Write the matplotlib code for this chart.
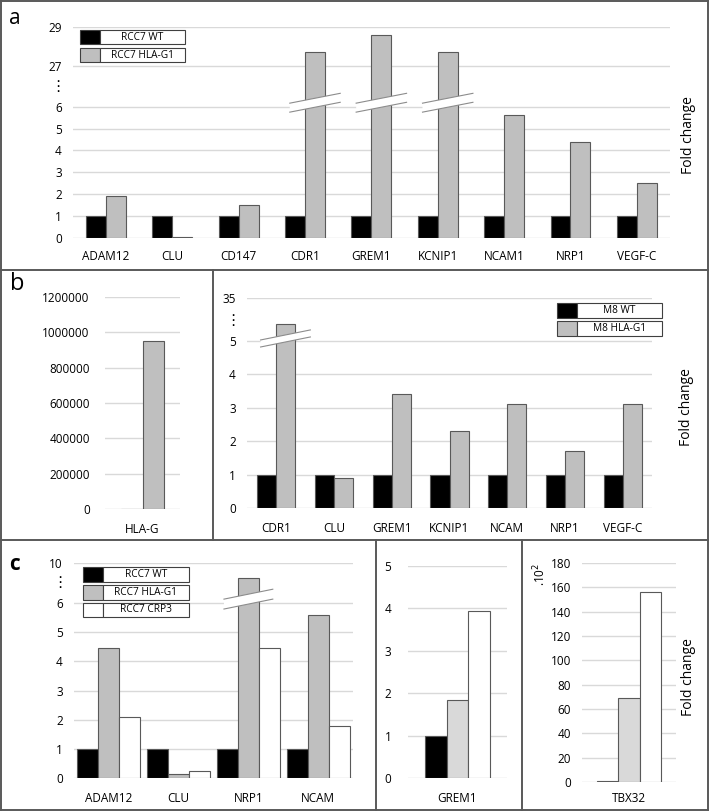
import matplotlib
matplotlib.use('Agg')
import matplotlib.pyplot as plt
import numpy as np
from matplotlib.patches import Rectangle, Polygon
from matplotlib.lines import Line2D

plt.rcParams['font.family'] = ['Open Sans', 'DejaVu Sans']

# ---- data ----
genes_a = ['ADAM12', 'CLU', 'CD147', 'CDR1', 'GREM1', 'KCNIP1', 'NCAM1', 'NRP1', 'VEGF-C']
wt_a = [1, 1, 1, 1, 1, 1, 1, 1, 1]
hla_a = [1.9, 0.05, 1.5, 27.7, 28.6, 27.7, 5.6, 4.4, 2.5]

genes_b0 = ['HLA-G']
wt_b0 = [1]
hla_b0 = [950000]

genes_b = ['CDR1', 'CLU', 'GREM1', 'KCNIP1', 'NCAM', 'NRP1', 'VEGF-C']
wt_b = [1, 1, 1, 1, 1, 1, 1]
hla_b = [17, 0.9, 3.4, 2.3, 3.1, 1.7, 3.1]

genes_c = ['ADAM12', 'CLU', 'NRP1', 'NCAM']
wt_c = [1, 1, 1, 1]
hla_c = [4.45, 0.13, 8.5, 5.6]
crp_c = [2.1, 0.25, 4.45, 1.8]

grem_c = [1, 1.83, 3.95]
tbx_c = [0.6, 69, 156]

BLACK = '#000000'
GREY = '#bfbfbf'
LGREY = '#d9d9d9'
WHITE = '#ffffff'
EDGE = '#595959'
GRID = '#d9d9d9'
FRAME = '#595959'

W, H = 709, 811
fig = plt.figure(figsize=(W / 100, H / 100), dpi=100)


def px_axes(x0, y0, x1, y1):
    return fig.add_axes([x0 / W, 1 - y1 / H, (x1 - x0) / W, (y1 - y0) / H])


def style(ax, ticks, labels=None, fs=8.5):
    for s in ax.spines.values():
        s.set_visible(False)
    ax.set_yticks(ticks)
    if labels is not None:
        ax.set_yticklabels(labels)
    ax.tick_params(length=0, labelsize=fs, pad=8)
    ax.tick_params(axis='x', pad=9)
    ax.yaxis.grid(True, color=GRID, lw=1)
    ax.set_axisbelow(True)


def broken(data_pts, disp_pts):
    def fwd(v):
        return np.interp(v, data_pts, disp_pts)

    def inv(v):
        return np.interp(v, disp_pts, data_pts)
    return fwd, inv


def break_band(ax, xc, half_w, y_mid, rise, thick, inv):
    xs = [xc - half_w, xc + half_w, xc + half_w, xc - half_w]
    ys = [y_mid - rise / 2 - thick / 2, y_mid + rise / 2 - thick / 2,
          y_mid + rise / 2 + thick / 2, y_mid - rise / 2 + thick / 2]
    yd = inv(np.array(ys))
    ax.add_patch(Polygon(list(zip(xs, yd)), closed=True, facecolor='white',
                         edgecolor='none', zorder=5))
    ax.plot(xs[:2], yd[:2], color='#8c8c8c', lw=0.8, zorder=6)
    ax.plot(xs[2:][::-1], yd[2:][::-1], color='#8c8c8c', lw=0.8, zorder=6)


def fig_line(x0, y0, x1, y1):
    fig.add_artist(Line2D([x0 / W, x1 / W], [1 - y0 / H, 1 - y1 / H],
                          transform=fig.transFigure, color=FRAME, lw=1.4))


def legend(x0, x1, y_rows, entries, fs=7.3):
    for (ya, yb), (lab, col) in zip(y_rows, entries):
        fig.add_artist(Rectangle((x0 / W, 1 - yb / H), 20 / W, (yb - ya) / H,
                                 transform=fig.transFigure, facecolor=col,
                                 edgecolor='#404040', lw=0.8))
        fig.add_artist(Rectangle(((x0 + 20) / W, 1 - yb / H), (x1 - x0 - 20) / W,
                                 (yb - ya) / H, transform=fig.transFigure,
                                 facecolor='white', edgecolor='#404040', lw=0.8))
        fig.text((x0 + 20 + x1) / 2 / W, 1 - (ya + yb) / 2 / H, lab,
                 ha='center', va='center', fontsize=fs)


def dots(x, y):
    fig.text(x / W, 1 - y / H, '⋮', ha='center', va='center', fontsize=11,
             family=['DejaVu Sans'])


# ---- panel a ----
ax = px_axes(72.8, 27, 670, 238)
fwd, inv = broken([0, 6, 27, 29], [0, 6, 7.86, 9.64])
ax.set_yscale('function', functions=(fwd, inv))
x = np.arange(len(genes_a))
w = 0.3
ax.bar(x - w / 2, wt_a, w, color=BLACK, edgecolor=EDGE, lw=0.8)
ax.bar(x + w / 2, hla_a, w, color=GREY, edgecolor=EDGE, lw=0.8)
ax.set_xlim(-0.5, len(genes_a) - 0.5)
ax.set_ylim(0, 29)
ax.set_xticks(x)
ax.set_xticklabels(genes_a)
style(ax, [0, 1, 2, 3, 4, 5, 6, 27, 29])
for i, v in enumerate(hla_a):
    if v > 6:
        break_band(ax, x[i] + w / 2, 0.38, 6.18, 0.45, 0.41, inv)
dots(58, 87)
legend(80, 185, [(30, 44), (48, 62)], [('RCC7 WT', BLACK), ('RCC7 HLA-G1', GREY)])
fig.text(15 / W, 1 - 18 / H, 'a', fontsize=15, ha='center', va='center')
fig.text(688 / W, 1 - 135 / H, 'Fold change', rotation=90, fontsize=10,
         ha='center', va='center')

# ---- panel b (left) ----
ax = px_axes(105, 297, 180, 509)
w = 0.29
ax.bar([-w / 2], wt_b0, w, color=BLACK, edgecolor=EDGE, lw=0.8)
ax.bar([w / 2], hla_b0, w, color=GREY, edgecolor=EDGE, lw=0.8)
ax.set_xlim(-0.5, 0.5)
ax.set_ylim(0, 1200000)
ax.set_xticks([0])
ax.set_xticklabels(genes_b0)
yt = [0, 200000, 400000, 600000, 800000, 1000000, 1200000]
style(ax, yt, [str(t) for t in yt])
ax.tick_params(axis='y', pad=11)
ax.tick_params(axis='x', pad=10)
fig.text(17 / W, 1 - 284 / H, 'b', fontsize=17, ha='center', va='center')

# ---- panel b (right) ----
ax = px_axes(247, 298, 652, 508)
fwd, inv = broken([0, 5, 35], [0, 5, 6.28])
ax.set_yscale('function', functions=(fwd, inv))
x = np.arange(len(genes_b))
w = 0.33
ax.bar(x - w / 2, wt_b, w, color=BLACK, edgecolor=EDGE, lw=0.8)
ax.bar(x + w / 2, hla_b, w, color=GREY, edgecolor=EDGE, lw=0.8)
ax.set_xlim(-0.5, len(genes_b) - 0.5)
ax.set_ylim(0, 35)
ax.set_xticks(x)
ax.set_xticklabels(genes_b)
style(ax, [0, 1, 2, 3, 4, 5, 35])
ax.tick_params(axis='x', pad=10)
for i, v in enumerate(hla_b):
    if v > 5:
        break_band(ax, x[i] + w / 2, 0.43, 5.07, 0.3, 0.21, inv)
dots(233, 321)
legend(557, 662, [(303, 318), (321, 336)], [('M8 WT', BLACK), ('M8 HLA-G1', GREY)])
fig.text(687 / W, 1 - 407 / H, 'Fold change', rotation=90, fontsize=10,
         ha='center', va='center')

# ---- panel c (left) ----
ax = px_axes(74, 563, 353, 778)
fwd, inv = broken([0, 6, 10], [0, 6, 7.38])
ax.set_yscale('function', functions=(fwd, inv))
x = np.arange(len(genes_c))
w = 0.3
ax.bar(x - w, wt_c, w, color=BLACK, edgecolor=EDGE, lw=0.8)
ax.bar(x, hla_c, w, color=GREY, edgecolor=EDGE, lw=0.8)
ax.bar(x + w, crp_c, w, color=WHITE, edgecolor=EDGE, lw=0.8)
ax.set_xlim(-0.5, len(genes_c) - 0.5)
ax.set_ylim(0, 10)
ax.set_xticks(x)
ax.set_xticklabels(genes_c)
style(ax, [0, 1, 2, 3, 4, 5, 6, 10])
ax.tick_params(axis='x', pad=10)
for i, v in enumerate(hla_c):
    if v > 6:
        break_band(ax, x[i], 0.35, 6.14, 0.34, 0.34, inv)
dots(60, 582)
legend(83, 189, [(567, 582), (585, 600), (603, 617)],
       [('RCC7 WT', BLACK), ('RCC7 HLA-G1', GREY), ('RCC7 CRP3', WHITE)])
fig.text(15 / W, 1 - 564 / H, 'c', fontsize=15, fontweight='bold',
         ha='center', va='center')

# ---- panel c (middle) ----
ax = px_axes(408, 566, 507, 778)
w = 0.22
ax.bar([-w, 0, w], grem_c, w, color=[BLACK, LGREY, WHITE], edgecolor=EDGE, lw=0.8)
ax.set_xlim(-0.5, 0.5)
ax.set_ylim(0, 5)
ax.set_xticks([0])
ax.set_xticklabels(['GREM1'])
style(ax, [0, 1, 2, 3, 4, 5])
ax.tick_params(axis='y', pad=12)
ax.tick_params(axis='x', pad=10)

# ---- panel c (right) ----
ax = px_axes(582, 563, 676, 782)
w = 0.23
ax.bar([-w, 0, w], tbx_c, w, color=[BLACK, LGREY, WHITE], edgecolor=EDGE, lw=0.8)
ax.set_xlim(-0.5, 0.5)
ax.set_ylim(0, 180)
ax.set_xticks([0])
ax.set_xticklabels(['TBX32'])
style(ax, list(range(0, 181, 20)))
ax.tick_params(axis='x', pad=7)
fig.text(540 / W, 1 - 574 / H, '.10$^2$', rotation=90, fontsize=8.5,
         ha='center', va='center')
fig.text(688 / W, 1 - 677 / H, 'Fold change', rotation=90, fontsize=10,
         ha='center', va='center')

# ---- panel frames ----
fig_line(1, 1, 708, 1)
fig_line(1, 810, 708, 810)
fig_line(1, 1, 1, 810)
fig_line(708, 1, 708, 810)
fig_line(1, 270, 708, 270)
fig_line(1, 540, 708, 540)
fig_line(213, 270, 213, 540)
fig_line(376, 540, 376, 810)
fig_line(522, 540, 522, 810)

fig.savefig('out.png', dpi=100)
